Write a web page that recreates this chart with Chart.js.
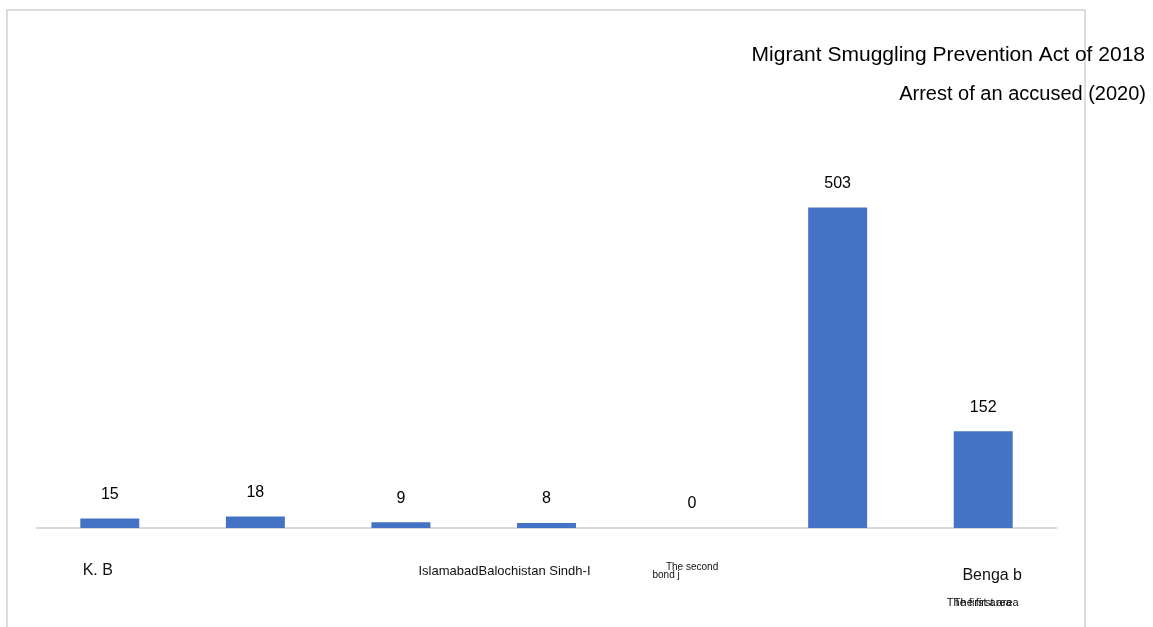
<!DOCTYPE html>
<html>
<head>
<meta charset="utf-8">
<script src="https://cdn.jsdelivr.net/npm/chart.js@4.4.0/dist/chart.umd.min.js"></script>
<style>
  body { margin: 0; background: #fff; }
  #wrap { position: relative; width: 1153px; height: 627px; overflow: hidden; }
  #frame { position: absolute; left: 6px; top: 9px; width: 1076px; height: 640px;
           border: 2px solid #dcdcdc; border-bottom: none; }
  #chart { position: absolute; left: 0; top: 0; }
</style>
</head>
<body>
<div id="wrap">
  <div id="frame"></div>
  <canvas id="chart" width="1153" height="627"></canvas>
</div>
<script>
const categories = ['K. B', 'Punjab', 'Islamabad', 'Balochistan Sindh-I', 'The second bond j', 'The first region', 'Benga b'];
const arrests = [15, 18, 9, 8, 0, 503, 152];
const titleLines = ['Migrant Smuggling Prevention Act of 2018', 'Arrest of an accused (2020)'];
// text shown under the axis, as it appears in the source picture
const axisTexts = [
  { cat: 0, text: 'K. B', dx: -12, y: 571, size: 16 },
  { cat: 3, text: 'IslamabadBalochistan Sindh-I', dx: -42, y: 571, size: 13 },
  { cat: 4, text: 'The second', dx: 0, y: 567, size: 10 },
  { cat: 4, text: 'bond j', dx: -26, y: 575, size: 10 },
  { cat: 6, text: 'Benga b', dx: 9, y: 576, size: 16 },
  { cat: 6, text: 'The first area', dx: -4, y: 603, size: 11 },
  { cat: 6, text: 'The first area', dx: 3, y: 603, size: 11 }
];

const FONT = 'Liberation Sans, Arial, sans-serif';

const textPlugin = {
  id: 'textPlugin',
  afterDraw(chart) {
    const ctx = chart.ctx;
    const xs = chart.scales.x;
    ctx.save();
    ctx.fillStyle = '#000';

    // titles, right aligned
    ctx.textAlign = 'right';
    ctx.textBaseline = 'middle';
    ctx.font = '21px ' + FONT;
    ctx.fillText(titleLines[0], 1145, 55);
    ctx.font = '20px ' + FONT;
    ctx.fillText(titleLines[1], 1146, 94);

    // value labels over bars
    ctx.textAlign = 'center';
    ctx.font = '16px ' + FONT;
    chart.getDatasetMeta(0).data.forEach((bar, i) => {
      ctx.fillText(String(arrests[i]), bar.x, bar.y - 24);
    });

    // axis texts
    axisTexts.forEach(t => {
      ctx.font = t.size + 'px ' + FONT;
      ctx.fillStyle = '#111';
      ctx.fillText(t.text, xs.getPixelForValue(t.cat) + t.dx, t.y);
    });
    ctx.restore();
  }
};

new Chart(document.getElementById('chart').getContext('2d'), {
  type: 'bar',
  data: {
    labels: categories,
    datasets: [{
      label: 'Arrests',
      data: arrests,
      backgroundColor: '#4472c4',
      barPercentage: 0.405,
      categoryPercentage: 1
    }]
  },
  options: {
    responsive: false,
    animation: false,
    layout: { padding: { left: 37, right: 97, top: 82, bottom: 99 } },
    plugins: {
      legend: { display: false },
      tooltip: { enabled: false }
    },
    scales: {
      x: {
        grid: { display: false },
        ticks: { display: false },
        border: { display: true, color: '#d9d9d9', width: 2 },
        afterFit: s => { s.height = 0; }
      },
      y: {
        display: false,
        min: 0,
        max: 700
      }
    }
  },
  plugins: [textPlugin]
});
</script>
</body>
</html>
